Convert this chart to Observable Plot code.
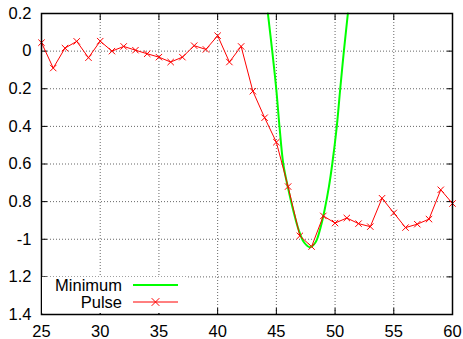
<!DOCTYPE html>
<html>
<head>
<meta charset="utf-8">
<script src="https://cdn.jsdelivr.net/npm/d3@7"></script>
<script src="https://cdn.jsdelivr.net/npm/@observablehq/plot@0.6"></script>
<style>
  body { margin: 0; background: #fff; }
  #chart { position: relative; width: 463px; height: 339px; overflow: hidden;
           font-family: "Liberation Sans", Arial, Helvetica, sans-serif; }
  #legend { position: absolute; left: 42px; top: 277px; width: 146px; height: 36px; background: #fff; }
</style>
</head>
<body>
<div id="chart"></div>
<script>
// Pulse samples (one per integer x)
const pulseX = [25, 26, 27, 28, 29, 30, 31, 32, 33, 34, 35, 36, 37, 38, 39, 40, 41, 42,
                43, 44, 45, 46, 47, 48, 49, 50, 51, 52, 53, 54, 55, 56, 57, 58, 59, 60];
const pulseY = [0.045, -0.09, 0.016, 0.052, -0.035, 0.053, 0.0, 0.025, 0.005, -0.014, -0.032, -0.058,
                -0.032, 0.029, 0.009, 0.082, -0.058, 0.025, -0.213, -0.354, -0.484, -0.72, -0.982, -1.039,
                -0.876, -0.914, -0.887, -0.917, -0.933, -0.782, -0.86, -0.938, -0.92, -0.893, -0.737, -0.81];

// Fitted minimum curve
const minX = [44.28, 44.65, 44.99, 45.27, 45.59, 45.98, 46.44, 46.92, 47.35, 47.86,
              48.34, 48.77, 49.10, 49.47, 49.76, 50.13, 50.44, 50.75, 51.09];
const minY = [0.2, 0, -0.2, -0.403, -0.6, -0.723, -0.847, -0.954, -1.016, -1.042,
              -1.016, -0.936, -0.847, -0.723, -0.6, -0.41, -0.2, 0, 0.2];

// Axes
const xTicks = [25, 30, 35, 40, 45, 50, 55, 60];
const yTicks = [0.2, 0, -0.2, -0.4, -0.6, -0.8, -1, -1.2, -1.4];
const yTickLabels = ["0.2", "0", "0.2", "0.4", "0.6", "0.8", "-1", "1.2", "1.4"];
const seriesNames = ["Minimum", "Pulse"];
const seriesColors = ["#00ff00", "#ff0000"];

const pulse = pulseX.map((x, i) => ({x, y: pulseY[i]}));
const minimum = minX.map((x, i) => ({x, y: minY[i]}));
const yLabel = new Map(yTicks.map((t, i) => [t, yTickLabels[i]]));

const grid = {stroke: "#666", strokeOpacity: 1, strokeWidth: 1, strokeDasharray: "1,2"};

const plot = Plot.plot({
  width: 463,
  height: 339,
  marginLeft: 41,
  marginRight: 11,
  marginTop: 13,
  marginBottom: 25,
  style: {fontFamily: "'Liberation Sans', Arial, Helvetica, sans-serif", fontSize: "16.5px", background: "#fff", color: "#000"},
  x: {domain: [25, 60]},
  y: {domain: [-1.4, 0.2]},
  marks: [
    Plot.gridX(xTicks, grid),
    Plot.gridY(yTicks, grid),
    Plot.axisY(yTicks, {anchor: "left", tickSize: -6, tickPadding: 16, tickFormat: d => yLabel.get(d), label: null, strokeWidth: 1}),
    Plot.axisY(yTicks, {anchor: "right", tickSize: -6, fill: "none", label: null}),
    Plot.axisX(xTicks, {anchor: "bottom", tickSize: -6, tickPadding: 17, label: null}),
    Plot.axisX(xTicks, {anchor: "top", tickSize: -6, fill: "none", label: null}),
    Plot.line(minimum, {x: "x", y: "y", stroke: seriesColors[0], strokeWidth: 2, curve: "catmull-rom"}),
    Plot.line(pulse, {x: "x", y: "y", stroke: seriesColors[1], strokeWidth: 1}),
    Plot.dot(pulse, {x: "x", y: "y", symbol: "times", r: 3, stroke: seriesColors[1], strokeWidth: 1}),
    Plot.frame({stroke: "#000", strokeWidth: 1.5})
  ]
});

const chart = document.getElementById("chart");
chart.appendChild(plot);

// Key box in the lower-left corner of the frame
const legend = d3.select(chart).append("div").attr("id", "legend")
  .append("svg").attr("width", 146).attr("height", 36)
  .style("font-family", "'Liberation Sans', Arial, Helvetica, sans-serif")
  .style("font-size", "16.5px");
seriesNames.forEach((name, i) => {
  const cy = 8 + i * 17;
  legend.append("text").attr("x", 80).attr("y", cy).attr("dy", "0.35em")
    .attr("text-anchor", "end").attr("fill", "#000").text(name);
  legend.append("line").attr("x1", 91).attr("x2", 136).attr("y1", cy).attr("y2", cy)
    .attr("stroke", seriesColors[i]).attr("stroke-width", i === 0 ? 2 : 1);
  if (name === "Pulse") {
    legend.append("path").attr("transform", `translate(113.5,${cy})`)
      .attr("d", d3.symbol(d3.symbolTimes, 40)()).attr("stroke", seriesColors[i]).attr("fill", "none");
  }
});
</script>
</body>
</html>
